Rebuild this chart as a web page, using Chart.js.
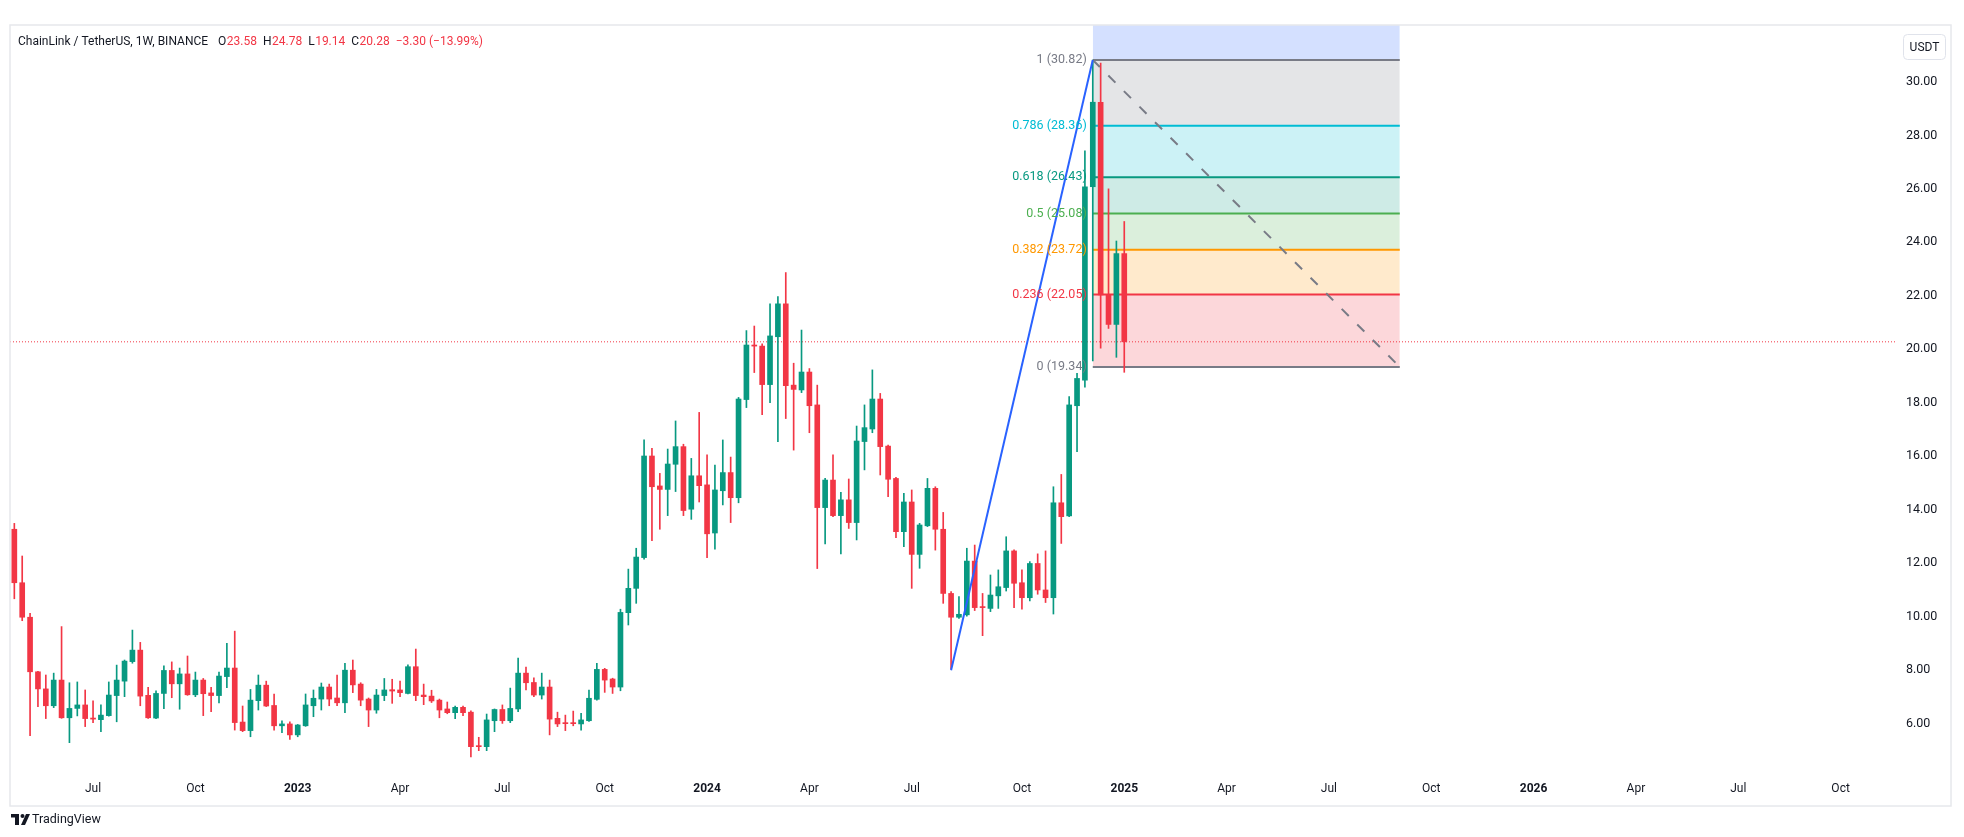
<!DOCTYPE html>
<html>
<head>
<meta charset="utf-8">
<script src="https://cdn.jsdelivr.net/npm/chart.js@4.4.1/dist/chart.umd.min.js"></script>
<style>
html, body { margin: 0; padding: 0; background: #fff; }
#wrap { width: 1964px; height: 837px; }
</style>
</head>
<body>
<div id="wrap"><canvas id="c" width="1964" height="837"></canvas></div>
<script>
// LINK/USDT weekly candles, first bar = week of 2022-04-25
const startWeek = '2022-04-25';

const opens = [13.27,11.27,9.98,7.94,7.30,6.67,7.63,6.22,6.57,6.70,6.21,6.15,6.30,7.05,7.59,8.32,8.75,7.06,6.21,7.13,
  7.99,7.49,7.86,7.08,7.63,7.15,7.05,7.76,8.08,6.06,5.74,6.86,7.44,6.68,5.92,5.99,5.58,5.92,6.67,6.92,
  7.37,6.96,6.78,8.00,7.48,6.92,6.51,7.05,7.27,7.26,7.13,8.13,7.07,7.03,6.88,6.55,6.41,6.61,6.43,5.16,
  5.14,6.11,6.53,6.11,6.55,7.89,7.54,7.07,7.37,6.20,6.02,6.02,5.99,6.11,6.91,8.03,7.67,7.37,10.15,11.06,
  12.21,16.01,14.89,14.76,15.70,16.36,14.02,15.27,14.93,13.13,14.71,15.39,14.45,18.12,20.16,20.12,18.68,20.47,21.70,18.66,
  18.48,19.15,17.92,14.08,15.11,13.78,14.37,13.52,16.55,17.02,18.14,16.38,15.17,13.18,14.29,12.33,13.40,14.80,13.27,10.87,
  9.98,10.07,12.08,10.37,10.31,10.78,11.09,12.46,11.27,10.71,11.99,11.00,10.71,14.26,13.77,17.89,18.85,26.08,29.24,22.03,
  20.93,23.58];
const highs = [13.49,12.27,10.13,7.96,7.82,7.89,9.63,7.53,7.56,7.26,6.85,6.70,7.56,8.19,8.38,9.50,9.04,7.36,7.23,8.16,
  8.31,8.08,8.53,7.93,7.69,7.36,7.93,9.00,9.46,6.66,7.28,7.82,7.59,7.11,6.11,6.07,5.97,7.11,7.26,7.52,
  7.48,7.82,8.26,8.38,7.53,6.96,7.28,7.69,7.66,7.59,8.20,8.79,7.48,7.25,6.92,6.81,6.66,6.66,6.48,5.49,
  6.36,6.55,6.70,7.33,8.45,8.12,7.71,7.89,7.63,6.43,6.32,6.47,6.39,7.26,8.26,8.07,7.70,10.28,11.78,12.56,
  16.61,16.30,15.36,16.27,17.32,16.45,15.92,17.64,16.05,15.67,16.61,15.97,18.20,20.70,20.87,20.20,21.70,21.97,22.87,19.48,
  20.72,19.28,18.66,15.17,16.05,14.65,15.15,17.13,17.92,19.23,18.35,16.42,15.21,14.61,14.74,13.49,15.17,14.86,13.90,10.94,
  10.75,12.56,12.68,10.87,11.56,11.75,12.99,12.50,11.75,12.06,12.35,12.46,14.86,15.32,18.23,19.10,27.42,30.82,30.70,26.00,
  24.05,24.78];
const lows = [10.67,9.85,5.55,6.64,6.19,6.60,6.20,5.29,6.29,5.89,6.04,5.70,6.28,6.07,7.01,8.26,6.67,6.20,6.19,6.56,
  6.97,6.54,7.06,7.01,6.30,6.45,6.78,7.35,5.76,5.70,5.51,6.51,6.64,5.76,5.66,5.41,5.51,5.90,6.26,6.51,
  6.67,6.67,6.41,7.16,6.67,5.89,6.39,6.86,6.76,7.01,7.11,6.86,6.71,6.79,6.22,6.37,6.19,6.30,4.76,4.99,
  4.99,5.70,6.01,6.04,6.45,7.26,7.01,6.92,5.58,5.89,5.74,5.92,5.76,6.08,6.88,7.17,7.13,7.23,9.69,10.50,
  12.15,12.84,13.27,13.78,14.68,13.78,13.64,14.29,12.21,12.53,14.18,13.52,14.26,17.82,19.13,17.56,18.00,16.55,17.41,16.23,
  18.38,16.88,11.80,12.72,13.74,12.35,13.30,12.87,15.49,16.88,15.30,14.49,12.96,12.62,11.06,11.81,13.37,12.49,10.50,8.05,
  9.94,10.02,10.23,9.29,10.19,10.31,10.96,10.34,10.28,10.59,10.84,10.53,10.10,12.74,13.74,16.17,18.58,19.57,20.04,20.78,
  19.70,19.14];
const closes = [11.27,9.98,7.94,7.30,6.67,7.63,6.22,6.57,6.70,6.19,6.17,6.32,7.07,7.63,8.34,8.75,7.03,6.22,7.13,7.99,
  7.49,7.86,7.08,7.63,7.12,7.05,7.78,8.08,6.04,5.74,6.88,7.44,6.66,5.92,5.99,5.58,5.95,6.70,6.95,7.37,
  6.92,6.78,8.00,7.45,6.88,6.51,7.07,7.26,7.22,7.16,8.13,7.05,7.01,6.85,6.51,6.41,6.61,6.41,5.14,5.14,
  6.14,6.53,6.11,6.57,7.89,7.53,7.07,7.37,6.17,5.99,6.00,6.00,6.14,6.95,8.03,7.63,7.37,10.16,11.06,12.23,
  16.01,14.86,14.76,15.71,16.36,13.97,15.27,14.90,13.10,14.74,15.39,14.45,18.14,20.16,20.12,18.68,20.50,21.70,18.64,18.50,
  19.15,17.89,14.08,15.11,13.78,14.37,13.52,16.57,17.07,18.14,16.36,15.14,13.18,14.29,12.33,13.43,14.80,13.27,10.87,9.98,
  10.09,12.08,10.34,10.34,10.81,11.12,12.46,11.25,10.71,11.99,11.00,10.71,14.26,13.74,17.92,18.91,26.08,29.24,22.03,20.93,
  23.58,20.28];

const priceTicks = [6, 8, 10, 12, 14, 16, 18, 20, 22, 24, 26, 28, 30];
const timeTickDates = ['2022-07-04','2022-10-03','2023-01-02','2023-04-03','2023-07-03','2023-10-02','2024-01-01',
  '2024-04-01','2024-07-01','2024-10-07','2025-01-06','2025-04-07','2025-07-07','2025-10-06','2026-01-05',
  '2026-04-06','2026-07-06','2026-10-05'];
const timeTickLabels = ['Jul','Oct','2023','Apr','Jul','Oct','2024','Apr','Jul','Oct','2025','Apr','Jul','Oct','2026','Apr','Jul','Oct'];

// header legend
const symbolTitle = 'ChainLink / TetherUS, 1W, BINANCE';
const ohlcKeys = ['O', 'H', 'L', 'C'];
const ohlcValues = ['23.58', '24.78', '19.14', '20.28'];
const changeText = '\u22123.30 (\u221213.99%)';

// Fib retracement drawing
const fibRatios = [0, 0.236, 0.382, 0.5, 0.618, 0.786, 1];
const fibPrices = [19.34, 22.05, 23.72, 25.08, 26.43, 28.36, 30.82];
const fibExtPrice = 37.91; // 1.618 level (off screen)
const fibDates = ['2024-12-09', '2025-09-08'];
// trend line drawing
const trendDates = ['2024-08-05', '2024-12-09'];
const trendPrices = [8.0, 30.82];

const GREEN = '#089981', RED = '#f23645', TEXT = '#131722';
const fibColors = ['#787b86', '#f23645', '#ff9800', '#4caf50', '#089981', '#00bcd4', '#787b86'];
const fibBandColors = ['rgba(242,54,69,0.2)', 'rgba(255,152,0,0.2)', 'rgba(76,175,80,0.2)', 'rgba(8,153,129,0.2)',
  'rgba(0,188,212,0.2)', 'rgba(120,123,134,0.2)', 'rgba(41,98,255,0.2)'];

const WEEK = 7 * 864e5;
function weekIndex(d) { return Math.round((Date.parse(d) - Date.parse(startWeek)) / WEEK); }

const idx = opens.map((_, i) => i);
const candleColors = idx.map(i => closes[i] >= opens[i] ? GREEN : RED);
const timeTickIdx = timeTickDates.map(weekIndex);
const fibX = fibDates.map(weekIndex);
const trendX = trendDates.map(weekIndex);
const lastClose = closes[closes.length - 1];

const X_MIN = -0.55, X_MAX = 238.91;
const FONT = 'Roboto, "Liberation Sans", sans-serif';

const datasets = [];
// trend line (top)
datasets.push({
  type: 'line', order: 1,
  data: trendX.map((x, i) => ({ x, y: trendPrices[i] })),
  borderColor: '#2962ff', borderWidth: 2, pointRadius: 0, fill: false
});
// fib diagonal
datasets.push({
  type: 'line', order: 2,
  data: [{ x: fibX[0], y: fibPrices[6] }, { x: fibX[1], y: fibPrices[0] }],
  borderColor: '#787b86', borderWidth: 2, borderDash: [10, 12], pointRadius: 0, fill: false
});
// candle bodies
datasets.push({
  type: 'bar', order: 4, grouped: false,
  data: idx.map(i => ({ x: i, y: [opens[i], closes[i]] })),
  backgroundColor: candleColors, barThickness: 5, minBarLength: 1, borderWidth: 0
});
// candle wicks
datasets.push({
  type: 'bar', order: 5, grouped: false,
  data: idx.map(i => ({ x: i, y: [lows[i], highs[i]] })),
  backgroundColor: candleColors, barThickness: 1, borderWidth: 0
});
// last price dotted line
datasets.push({
  type: 'line', order: 6,
  data: [{ x: X_MIN, y: lastClose }, { x: X_MAX, y: lastClose }],
  borderColor: RED, borderWidth: 1, borderDash: [1, 2], pointRadius: 0, fill: false
});
// fib levels + bands
fibPrices.forEach((p, k) => {
  const next = k < fibPrices.length - 1 ? fibPrices[k + 1] : fibExtPrice;
  datasets.push({
    type: 'line', order: 10 + k,
    data: [{ x: fibX[0], y: p }, { x: fibX[1], y: p }],
    borderColor: fibColors[k], borderWidth: 2, pointRadius: 0,
    fill: { value: next }, backgroundColor: fibBandColors[k]
  });
});

const drawings = {
  id: 'drawings',
  beforeDraw(chart) {
    const ctx = chart.ctx;
    ctx.save();
    ctx.fillStyle = '#fff';
    ctx.fillRect(0, 0, chart.width, chart.height);
    ctx.restore();
  },
  afterDatasetsDraw(chart) {
    const ctx = chart.ctx, xs = chart.scales.x, ys = chart.scales.y;
    ctx.save();
    ctx.font = '12.5px ' + FONT;
    ctx.textAlign = 'right';
    ctx.textBaseline = 'middle';
    const lx = xs.getPixelForValue(fibX[0]) - 6;
    fibPrices.forEach((p, k) => {
      ctx.fillStyle = fibColors[k];
      ctx.fillText(fibRatios[k] + ' (' + p.toFixed(2) + ')', lx, ys.getPixelForValue(p));
    });
    ctx.restore();
  },
  afterDraw(chart) {
    const ctx = chart.ctx;
    ctx.save();
    // outer frame
    ctx.strokeStyle = '#e6e8ec';
    ctx.lineWidth = 1.5;
    ctx.strokeRect(10, 25, 1941, 781);

    // legend header
    ctx.font = '12px ' + FONT;
    ctx.textBaseline = 'middle';
    ctx.textAlign = 'left';
    const hy = 42;
    let x = 18;
    ctx.fillStyle = TEXT;
    ctx.fillText(symbolTitle, x, hy);
    x += ctx.measureText(symbolTitle).width + 10;
    ohlcKeys.forEach((k, i) => {
      ctx.fillStyle = TEXT;
      ctx.fillText(k, x, hy);
      x += ctx.measureText(k).width + 0.5;
      ctx.fillStyle = RED;
      ctx.fillText(ohlcValues[i], x, hy);
      x += ctx.measureText(ohlcValues[i]).width + 6;
    });
    ctx.fillStyle = RED;
    ctx.fillText(changeText, x, hy);

    // currency box
    ctx.strokeStyle = '#e0e3eb';
    ctx.lineWidth = 1;
    ctx.beginPath();
    ctx.roundRect(1903.5, 34.5, 42, 25, 4);
    ctx.fillStyle = '#fff';
    ctx.fill();
    ctx.stroke();
    ctx.fillStyle = TEXT;
    ctx.font = '12px ' + FONT;
    ctx.textAlign = 'center';
    ctx.fillText('USDT', 1924.5, 47.5);

    // TradingView logo
    ctx.fillStyle = TEXT;
    ctx.fillRect(11, 814, 8, 3.5);
    ctx.fillRect(15, 814, 4, 11);
    ctx.beginPath();
    ctx.arc(22.5, 816, 2, 0, Math.PI * 2);
    ctx.fill();
    ctx.beginPath();
    ctx.moveTo(26, 814); ctx.lineTo(30, 814); ctx.lineTo(25, 825); ctx.lineTo(21, 825);
    ctx.closePath();
    ctx.fill();
    ctx.font = '12.5px ' + FONT;
    ctx.textAlign = 'left';
    ctx.fillText('TradingView', 32, 820);
    ctx.restore();
  }
};

new Chart(document.getElementById('c'), {
  type: 'bar',
  data: { datasets },
  options: {
    responsive: false,
    animation: false,
    devicePixelRatio: 1,
    events: [],
    layout: { padding: { left: 10, top: 25, right: 15, bottom: 32 } },
    plugins: { legend: { display: false }, tooltip: { enabled: false } },
    scales: {
      x: {
        type: 'linear', offset: false, min: X_MIN, max: X_MAX,
        grid: { display: false, drawTicks: false },
        border: { display: false },
        afterBuildTicks(scale) { scale.ticks = timeTickIdx.map(v => ({ value: v })); },
        afterFit(scale) { scale.height = 30; },
        ticks: {
          autoSkip: false, maxRotation: 0, padding: 7, color: TEXT,
          font: (c) => ({ family: FONT, size: 12, weight: /^\d/.test(timeTickLabels[c.index] || '') ? 'bold' : 'normal' }),
          callback: (v, i) => timeTickLabels[i]
        }
      },
      y: {
        type: 'linear', position: 'right', min: 4.08, max: 32.128,
        grid: { display: false, drawTicks: false },
        border: { display: false },
        afterBuildTicks(scale) { scale.ticks = priceTicks.map(v => ({ value: v })); },
        afterFit(scale) { scale.width = 54; },
        ticks: {
          padding: 11, color: TEXT, font: { family: FONT, size: 12.5 },
          callback: (v) => Number(v).toFixed(2)
        }
      }
    }
  },
  plugins: [drawings]
});
</script>
</body>
</html>
